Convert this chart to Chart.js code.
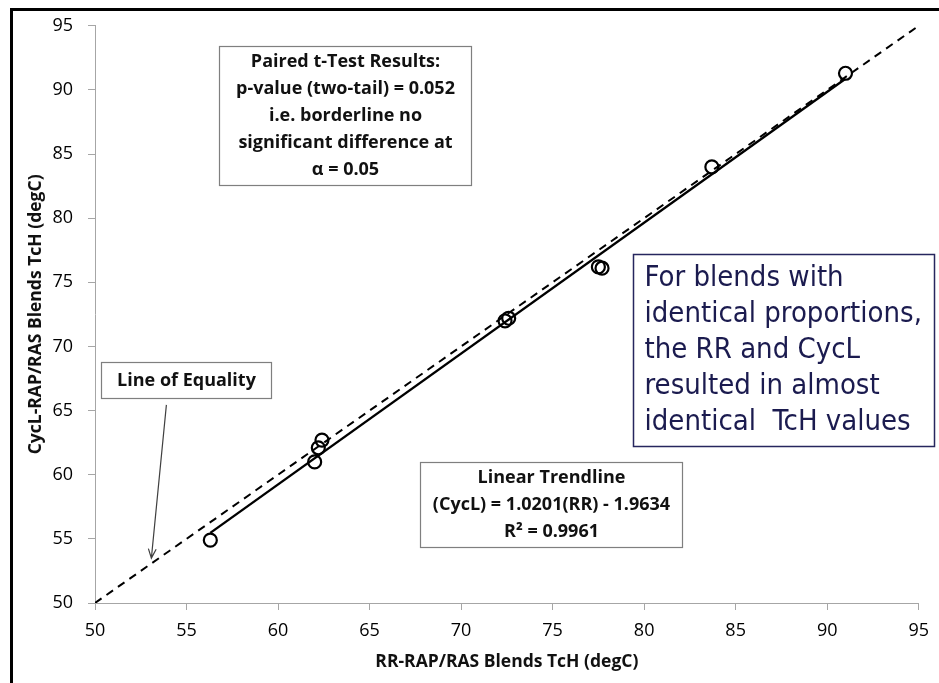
<!DOCTYPE html>
<html>
<head>
<meta charset="utf-8">
<script src="https://cdn.jsdelivr.net/npm/chart.js@4.4.1/dist/chart.umd.min.js"></script>
<style>
    body { margin: 0; background: #fff; }
    canvas { display: block; }
</style>
</head>
<body>
<canvas id="tchChart" width="939" height="683"></canvas>
<script>
// TcH values (degC) for the same blends
const rrTcH   = [56.3, 62.0, 62.2, 62.4, 72.4, 72.6, 77.5, 77.7, 83.7, 91.0];
const cyclTcH = [54.9, 61.0, 62.1, 62.7, 72.0, 72.2, 76.2, 76.1, 84.0, 91.3];

// linear trendline as printed on the chart
const trendSlope = 1.0201;
const trendIntercept = -1.9634;

// both axes share the same ticks
const axisTicks = [50, 55, 60, 65, 70, 75, 80, 85, 90, 95];

const tickFont = { family: 'Open Sans', size: 18, weight: '500' };
const titleFont = { family: 'Open Sans', size: 17.5, weight: 'bold' };
const axisGray = '#a6a6a6';

// text boxes drawn on top of the chart
const notesPlugin = {
    id: 'notes',
    afterDraw(chart) {
        const { ctx, scales: { x, y } } = chart;
        const px = v => x.getPixelForValue(v);
        const py = v => y.getPixelForValue(v);

        const drawBox = (x0, y0, x1, y1, lines, opts) => {
            const l = Math.round(px(x0)) + 0.5, r = Math.round(px(x1)) + 0.5;
            const t = Math.round(py(y0)) + 0.5, b = Math.round(py(y1)) + 0.5;
            ctx.fillStyle = '#fff';
            ctx.fillRect(l, t, r - l, b - t);
            ctx.strokeStyle = opts.border;
            ctx.lineWidth = opts.borderWidth;
            ctx.strokeRect(l, t, r - l, b - t);
            ctx.font = opts.font;
            ctx.fillStyle = opts.color;
            ctx.textBaseline = 'middle';
            ctx.textAlign = opts.align;
            const mid = (t + b) / 2;
            const first = mid - (lines.length - 1) * opts.lineHeight / 2;
            const tx = opts.align === 'center' ? (l + r) / 2 : l + opts.inset;
            lines.forEach((s, i) => ctx.fillText(s, tx, first + i * opts.lineHeight));
        };

        ctx.save();

        // outer frame (left and top edges only)
        ctx.strokeStyle = '#000';
        ctx.lineWidth = 3;
        ctx.beginPath();
        ctx.moveTo(11.5, chart.height);
        ctx.lineTo(11.5, 9.5);
        ctx.lineTo(chart.width, 9.5);
        ctx.stroke();

        const grayBox = {
            border: '#7f7f7f', borderWidth: 1.2, color: '#111',
            font: 'bold 18px "Open Sans"', align: 'center', lineHeight: 27
        };

        drawBox(56.75, 93.45, 70.56, 82.55, [
            'Paired t-Test Results:',
            'p-value (two-tail) = 0.052',
            'i.e. borderline no',
            'significant difference at',
            '\u03b1 = 0.05'
        ], grayBox);

        drawBox(67.77, 61.02, 82.09, 54.40, [
            'Linear Trendline',
            '(CycL) = 1.0201(RR) - 1.9634',
            'R\u00b2 = 0.9961'
        ], grayBox);

        drawBox(50.31, 68.80, 59.63, 66.00, ['Line of Equality'], grayBox);

        drawBox(79.41, 77.18, 95.86, 62.24, [
            'For blends with',
            'identical proportions,',
            'the RR and CycL',
            'resulted in almost',
            'identical  TcH values'
        ], {
            border: '#26265e', borderWidth: 1.5, color: '#1b1b4f',
            font: '29px "DejaVu Sans Condensed", "DejaVu Sans"', align: 'left',
            lineHeight: 36, inset: 11
        });

        // arrow pointing at the line of equality
        const ax0 = px(53.9), ay0 = py(65.45);
        const ax1 = px(53.08), ay1 = py(53.5);
        const ang = Math.atan2(ay1 - ay0, ax1 - ax0);
        ctx.strokeStyle = '#404040';
        ctx.lineWidth = 1.2;
        ctx.beginPath();
        ctx.moveTo(ax0, ay0);
        ctx.lineTo(ax1, ay1);
        ctx.moveTo(ax1 - 10 * Math.cos(ang - 0.4), ay1 - 10 * Math.sin(ang - 0.4));
        ctx.lineTo(ax1, ay1);
        ctx.lineTo(ax1 - 10 * Math.cos(ang + 0.4), ay1 - 10 * Math.sin(ang + 0.4));
        ctx.stroke();

        ctx.restore();
    }
};

const xMin = Math.min(...rrTcH);
const xMax = Math.max(...rrTcH);
const lo = axisTicks[0];
const hi = axisTicks[axisTicks.length - 1];

new Chart(document.getElementById('tchChart'), {
    type: 'scatter',
    data: {
        datasets: [
            {
                label: 'TcH',
                data: rrTcH.map((v, i) => ({ x: v, y: cyclTcH[i] })),
                pointStyle: 'circle',
                pointRadius: 6.5,
                pointBorderWidth: 2.2,
                borderColor: '#000',
                backgroundColor: 'rgba(0,0,0,0)',
                order: 0
            },
            {
                label: 'Linear Trendline',
                data: [
                    { x: xMin, y: trendSlope * xMin + trendIntercept },
                    { x: xMax, y: trendSlope * xMax + trendIntercept }
                ],
                showLine: true,
                borderColor: '#000',
                borderWidth: 2.4,
                pointRadius: 0,
                order: 1
            },
            {
                label: 'Line of Equality',
                data: [{ x: lo, y: lo }, { x: hi, y: hi }],
                showLine: true,
                borderColor: '#000',
                borderWidth: 2,
                borderDash: [8, 6],
                pointRadius: 0,
                order: 2
            }
        ]
    },
    options: {
        responsive: false,
        devicePixelRatio: 1,
        animation: false,
        layout: { padding: { top: 25, right: 17, left: 0, bottom: 0 } },
        plugins: {
            legend: { display: false },
            tooltip: { enabled: false }
        },
        scales: {
            x: {
                type: 'linear',
                min: lo,
                max: hi,
                afterFit: (scale) => { scale.height = 80; },
                ticks: { stepSize: 5, font: tickFont, color: '#000', padding: 10 },
                grid: { drawOnChartArea: false, tickLength: 7, color: axisGray },
                border: { color: axisGray, width: 1 },
                title: {
                    display: true,
                    text: 'RR-RAP/RAS Blends TcH (degC)',
                    font: titleFont,
                    color: '#111',
                    padding: { top: 0, bottom: 10 }
                }
            },
            y: {
                type: 'linear',
                min: lo,
                max: hi,
                afterFit: (scale) => { scale.width = 95; },
                ticks: { stepSize: 5, font: tickFont, color: '#000', padding: 15 },
                grid: { drawOnChartArea: false, tickLength: 7, color: axisGray },
                border: { color: axisGray, width: 1 },
                title: {
                    display: true,
                    text: 'CycL-RAP/RAS Blends TcH (degC)',
                    font: titleFont,
                    color: '#111',
                    padding: { top: 26, bottom: 0 }
                }
            }
        }
    },
    plugins: [notesPlugin]
});
</script>
</body>
</html>
